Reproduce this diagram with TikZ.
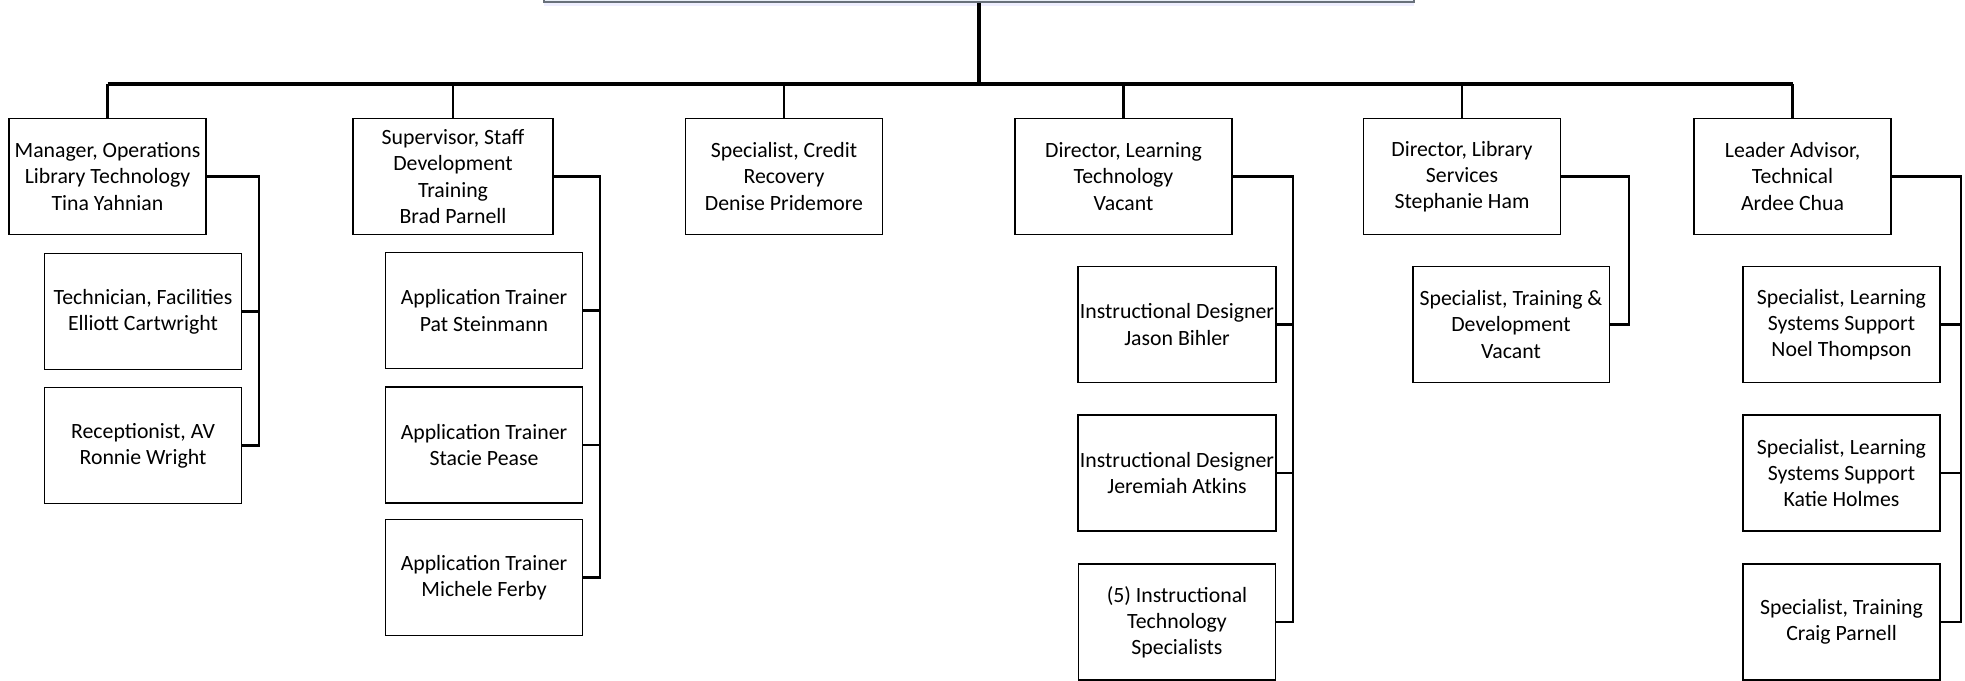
\documentclass[tikz,border=0pt]{standalone}
\usepackage{fontspec}
\setmainfont{Carlito}
\usetikzlibrary{shadows}
\definecolor{deptline}{RGB}{104,112,122}
\definecolor{deptfill}{RGB}{232,238,247}
\begin{document}
\begin{tikzpicture}[x=0.02cm, y=-0.02cm,
	box/.style={draw, line width=1.1pt, fill=white, minimum width=3.94cm, minimum height=2.32cm,
		align=center, inner sep=1pt, font=\fontsize{12.4}{14.9}\selectfont},
	wide/.style={box, minimum width=4.34cm},
	link/.style={line width=1.3pt},
	trunk/.style={line width=1.8pt}]
	\useasboundingbox (0,0) rectangle (1965,680);
	\node[draw=deptline, fill=deptfill, line width=1.1pt, minimum width=17.42cm, minimum height=1.2cm,
		drop shadow={fill=blue!12, opacity=0.5, shadow xshift=0pt, shadow yshift=-2pt}] (dept) at (979,-28) {};
	\coordinate (bus) at (979,84);
	\node[box] (mgr) at (107.5,176.5) {Manager, Operations\\Library Technology\\Tina Yahnian};
	\node[box, minimum width=4cm] (sup) at (453,176.5) {Supervisor, Staff\\Development\\Training\\Brad Parnell};
	\node[box] (cred) at (784,176.5) {Specialist, Credit\\Recovery\\Denise Pridemore};
	\node[wide] (dlt) at (1123.5,176.5) {Director, Learning\\Technology\\Vacant};
	\node[box] (dls) at (1462,176.5) {Director, Library\\Services\\Stephanie Ham};
	\node[box] (lead) at (1792.5,176.5) {Leader Advisor,\\Technical\\Ardee Chua};
	\node[box] (tech) at (143,311.5) {Technician, Facilities\\Elliott Cartwright};
	\node[box] (recep) at (143,445.5) {Receptionist, AV\\Ronnie Wright};
	\node[box] (app1) at (484,310.5) {Application Trainer\\Pat Steinmann};
	\node[box] (app2) at (484,445) {Application Trainer\\Stacie Pease};
	\node[box] (app3) at (484,577.5) {Application Trainer\\Michele Ferby};
	\node[box] (des1) at (1177,324.5) {Instructional Designer\\Jason Bihler};
	\node[box] (des2) at (1177,473) {Instructional Designer\\Jeremiah Atkins};
	\node[box] (its) at (1177,622) {(5) Instructional\\Technology\\Specialists};
	\node[box] (trn) at (1511,324.5) {Specialist, Training \&\\Development\\Vacant};
	\node[box] (lss1) at (1841.5,324.5) {Specialist, Learning\\Systems Support\\Noel Thompson};
	\node[box] (lss2) at (1841.5,473) {Specialist, Learning\\Systems Support\\Katie Holmes};
	\node[box] (trc) at (1841.5,622) {Specialist, Training\\Craig Parnell};
	\draw[trunk] (dept.south) -- (bus);
	\draw[trunk] (mgr.north |- bus) -- (lead.north |- bus);
	\foreach \n in {mgr,sup,cred,dlt,dls,lead}
		\draw[link] (\n.north) -- (\n.north |- bus);
	\coordinate (mgrx) at (259,0);
	\coordinate (supx) at (600,0);
	\coordinate (dltx) at (1293,0);
	\coordinate (dlsx) at (1629,0);
	\coordinate (leadx) at (1961,0);
	\draw[link] (mgr.east) -| (mgrx |- recep.east) -- (recep.east);
	\draw[link] (tech.east) -- (tech.east -| mgrx);
	\draw[link] (sup.east) -| (supx |- app3.east) -- (app3.east);
	\draw[link] (app1.east) -- (app1.east -| supx);
	\draw[link] (app2.east) -- (app2.east -| supx);
	\draw[link] (dlt.east) -| (dltx |- its.east) -- (its.east);
	\draw[link] (des1.east) -- (des1.east -| dltx);
	\draw[link] (des2.east) -- (des2.east -| dltx);
	\draw[link] (dls.east) -| (dlsx |- trn.east) -- (trn.east);
	\draw[link] (lead.east) -| (leadx |- trc.east) -- (trc.east);
	\draw[link] (lss1.east) -- (lss1.east -| leadx);
	\draw[link] (lss2.east) -- (lss2.east -| leadx);
\end{tikzpicture}
\end{document}
